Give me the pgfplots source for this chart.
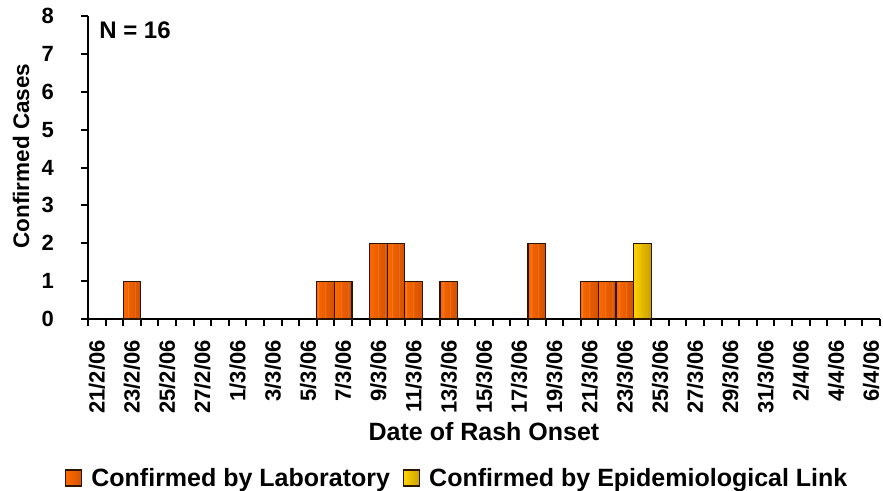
\documentclass[border=0pt]{standalone}
\usepackage{fontspec}
\setmainfont{Liberation Sans}
\usepackage{pgfplots}
\usepackage{pgfplotstable}
\pgfplotsset{compat=1.18}
\definecolor{orL}{HTML}{FF6A00}
\definecolor{orR}{HTML}{D45200}
\definecolor{yeL}{HTML}{FFD400}
\definecolor{yeR}{HTML}{C9A000}
\definecolor{edgec}{HTML}{2A1500}
% day index (21/2/06 = 0) centre, cases
\pgfplotstableread{
x y
2.5 1
13.5 1
14.5 1
16.5 2
17.5 2
18.5 1
20.5 1
25.5 2
28.5 1
29.5 1
30.5 1
}\labdata
\pgfplotstableread{
x y
31.5 2
}\epidata
\pgfplotsset{
  lablegend/.style={legend image code/.code={\draw[draw=edgec, line width=1.2bp, left color=orL, right color=orR] (0bp,-8bp) rectangle (16bp,8bp);}},
  epilegend/.style={legend image code/.code={\draw[draw=edgec, line width=1.2bp, left color=yeL, right color=yeR] (0bp,-8bp) rectangle (16bp,8bp);}},
}
\begin{document}
\begin{tikzpicture}
\path[use as bounding box] (-88bp,-172bp) rectangle (795bp,319bp);
\begin{axis}[
  scale only axis, width=792bp, height=303bp,
  xmin=0, xmax=45, ymin=0, ymax=8,
  axis x line*=bottom, axis y line*=left,
  axis line style={line width=2.5bp},
  ytick={0,...,8},
  xtick={0.5,2.5,...,44.5},
  xticklabels={21/2/06,23/2/06,25/2/06,27/2/06,1/3/06,3/3/06,5/3/06,7/3/06,9/3/06,11/3/06,13/3/06,15/3/06,17/3/06,19/3/06,21/3/06,23/3/06,25/3/06,27/3/06,29/3/06,31/3/06,2/4/06,4/4/06,6/4/06},
  major x tick style={draw=none},
  minor xtick={0,...,45},
  tick align=outside, major tick length=7bp, minor tick length=7bp,
  tick style={line width=2bp, black},
  /pgf/number format/assume math mode=true,
  every tick label/.append style={font=\fontsize{22bp}{26bp}\selectfont\bfseries},
  xticklabel style={rotate=90, anchor=east, inner sep=0pt},
  yticklabel style={anchor=east, inner sep=0pt},
  xticklabel shift=14bp, yticklabel shift=27bp,
  ylabel={Confirmed Cases},
  ylabel style={at={(axis description cs:-0.0846,0.538)}, anchor=center, rotate=0, font=\fontsize{22.5bp}{26bp}\selectfont\bfseries, inner sep=0pt},
  xlabel={Date of Rash Onset},
  xlabel style={at={(axis description cs:0.5,-0.373)}, anchor=center, font=\fontsize{25bp}{29bp}\selectfont\bfseries, inner sep=0pt},
  legend style={at={(axis description cs:0.465,-0.525)}, anchor=center, draw=none, legend columns=2,
    font=\fontsize{25bp}{29bp}\selectfont\bfseries, nodes={inner sep=0pt},
    /tikz/every odd column/.append style={column sep=9bp},
    /tikz/every even column/.append style={column sep=13bp}},
]
% gradient fill: ten vertical slices per bar, light on the left, dark on the right
\pgfplotsinvokeforeach{0,...,9}{
  \addplot[ybar, bar width=0.115, bar shift={#1*0.1-0.45}, draw=none, fill=orR!#15!orL, forget plot] table {\labdata};
  \addplot[ybar, bar width=0.115, bar shift={#1*0.1-0.45}, draw=none, fill=yeR!#15!yeL, forget plot] table {\epidata};
}
% outlines (and legend entries)
\addplot[ybar, bar width=1, bar shift=0, fill=none, draw=edgec, line width=1.2bp, lablegend] table {\labdata};
\addlegendentry{Confirmed by Laboratory}
\addplot[ybar, bar width=1, bar shift=0, fill=none, draw=edgec, line width=1.2bp, epilegend] table {\epidata};
\addlegendentry{Confirmed by Epidemiological Link}
\node[anchor=west, inner sep=0pt, font=\fontsize{24bp}{28bp}\selectfont\bfseries] at (axis description cs:0.014,0.952) {N = 16};
\end{axis}
\end{tikzpicture}
\end{document}
